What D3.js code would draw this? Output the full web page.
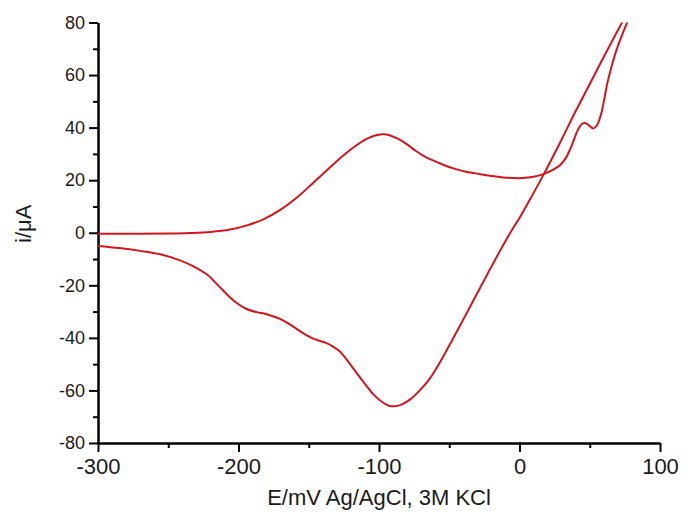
<!DOCTYPE html>
<html>
<head>
<meta charset="utf-8">
<script src="https://cdn.jsdelivr.net/npm/d3@7"></script>
<style>
  body { margin: 0; background: #fff; }
  text { font-family: "Liberation Sans", Arial, sans-serif; fill: #1a1a1a; }
</style>
</head>
<body>
<div id="chart-area"></div>
<script>
// forward (anodic) scan, -300 mV up to the vertex
const forwardE = [-300, -270, -250, -235, -220, -206, -194, -182, -170, -158, -146, -135, -125, -116, -108, -102, -97, -92, -86, -80, -74, -68, -62, -54, -46, -38, -28, -18, -8, 2, 10, 17, 24, 29, 33, 37, 41, 44, 46.6, 49.5, 52.5, 55, 58, 63, 69, 77];
const forwardI = [-0.4, -0.4, -0.3, -0.1, 0.3, 1.2, 2.8, 5.2, 8.8, 13.6, 19.4, 24.8, 29.6, 33.3, 35.9, 37.1, 37.5, 37.0, 35.6, 33.6, 31.2, 29.2, 27.6, 25.8, 24.3, 23.2, 22.3, 21.5, 20.9, 20.8, 21.3, 22.3, 24, 25.8, 28.5, 33, 38.5, 41.2, 41.8, 40.8, 39.7, 40.8, 45, 58, 69.5, 80.5];

// reverse (cathodic) scan, vertex back to -300 mV
const reverseE = [74, 62, 50.2, 40, 30, 17.3, 8, 0.4, -7, -13.9, -21, -28.1, -35, -42.3, -49.5, -56.6, -63.5, -70.8, -78, -85, -89, -93, -98, -104, -110, -116, -121, -127.8, -133, -137.3, -142, -146.8, -152, -158.6, -165, -170.5, -180, -187, -194.2, -200, -206, -214, -222.6, -232, -241.6, -255, -270, -285, -300];
const reverseI = [81, 69, 56.8, 46.3, 35.5, 22.3, 13.2, 6, -0.4, -6.9, -13.9, -21, -28, -35.3, -42.4, -49.3, -55.2, -59.9, -63.5, -65.6, -66, -65.8, -64.3, -61.5, -57.5, -53.3, -49.7, -45.2, -43.2, -42, -41.2, -40.3, -38.9, -36.6, -34.4, -32.8, -31, -30.2, -29, -27.2, -24.6, -20.3, -15.8, -12.8, -10.5, -8.3, -6.9, -5.8, -5];

const xTicks = [-300, -200, -100, 0, 100];
const yTicks = [-80, -60, -40, -20, 0, 20, 40, 60, 80];

const margin = { left: 98, right: 34, top: 22.5, bottom: 79 };
const width = 694 - margin.left - margin.right,
  height = 522 - margin.top - margin.bottom;

const svg = d3.select("#chart-area")
  .append("svg")
  .attr("width", 694)
  .attr("height", 522);

const g = svg.append("g")
  .attr("transform", "translate(" + margin.left + ", " + margin.top + ")");

const x = d3.scaleLinear().domain([-300, 100]).range([0, width]);
const y = d3.scaleLinear().domain([-80, 80]).range([height, 0]);

g.append("clipPath")
  .attr("id", "plot-clip")
  .append("rect")
  .attr("width", width)
  .attr("height", height);

// minor ticks
g.append("g")
  .attr("transform", "translate(0, " + height + ")")
  .call(d3.axisBottom(x).tickValues(d3.range(-250, 100, 100)).tickSize(5).tickFormat(""))
  .call((a) => a.select(".domain").remove());
g.append("g")
  .call(d3.axisLeft(y).tickValues(d3.range(-70, 80, 20)).tickSize(5).tickFormat(""))
  .call((a) => a.select(".domain").remove());

// major axes
const xAxis = g.append("g")
  .attr("class", "x axis")
  .attr("transform", "translate(0, " + height + ")")
  .call(d3.axisBottom(x).tickValues(xTicks).tickSize(9).tickSizeOuter(0).tickPadding(6)
    .tickFormat((d) => String(d)));
xAxis.selectAll("text").attr("font-size", "22px");

const yAxis = g.append("g")
  .attr("class", "y axis")
  .call(d3.axisLeft(y).tickValues(yTicks).tickSize(9).tickSizeOuter(0).tickPadding(4)
    .tickFormat((d) => String(d)));
yAxis.selectAll("text").attr("font-size", "18px");

g.selectAll(".tick line").attr("stroke", "#000").attr("stroke-width", 2);
g.selectAll(".domain").attr("stroke", "#000").attr("stroke-width", 2.5);
g.selectAll(".tick text").style("font-family", "'Liberation Sans', Arial, sans-serif").attr("fill", "#1a1a1a");

// X Label
g.append("text")
  .attr("x", width / 2)
  .attr("y", height + 62)
  .attr("font-size", "22px")
  .attr("text-anchor", "middle")
  .text("E/mV Ag/AgCl, 3M KCl");

// Y Label
g.append("text")
  .attr("transform", "translate(" + (-67) + ", " + (y(0) - 9) + ") rotate(-90)")
  .attr("font-size", "22px")
  .attr("text-anchor", "middle")
  .text("i/μA");

const line = d3.line()
  .x((d) => x(d[0]))
  .y((d) => y(d[1]))
  .curve(d3.curveCatmullRom.alpha(0.5));

const forward = forwardE.map((e, i) => [e, forwardI[i]]);
const reverse = reverseE.map((e, i) => [e, reverseI[i]]);

const curves = g.append("g").attr("clip-path", "url(#plot-clip)");
[forward, reverse].forEach((pts) => {
  curves.append("path")
    .attr("d", line(pts))
    .attr("fill", "none")
    .attr("stroke", "#d2161e")
    .attr("stroke-width", 2);
});
</script>
</body>
</html>
